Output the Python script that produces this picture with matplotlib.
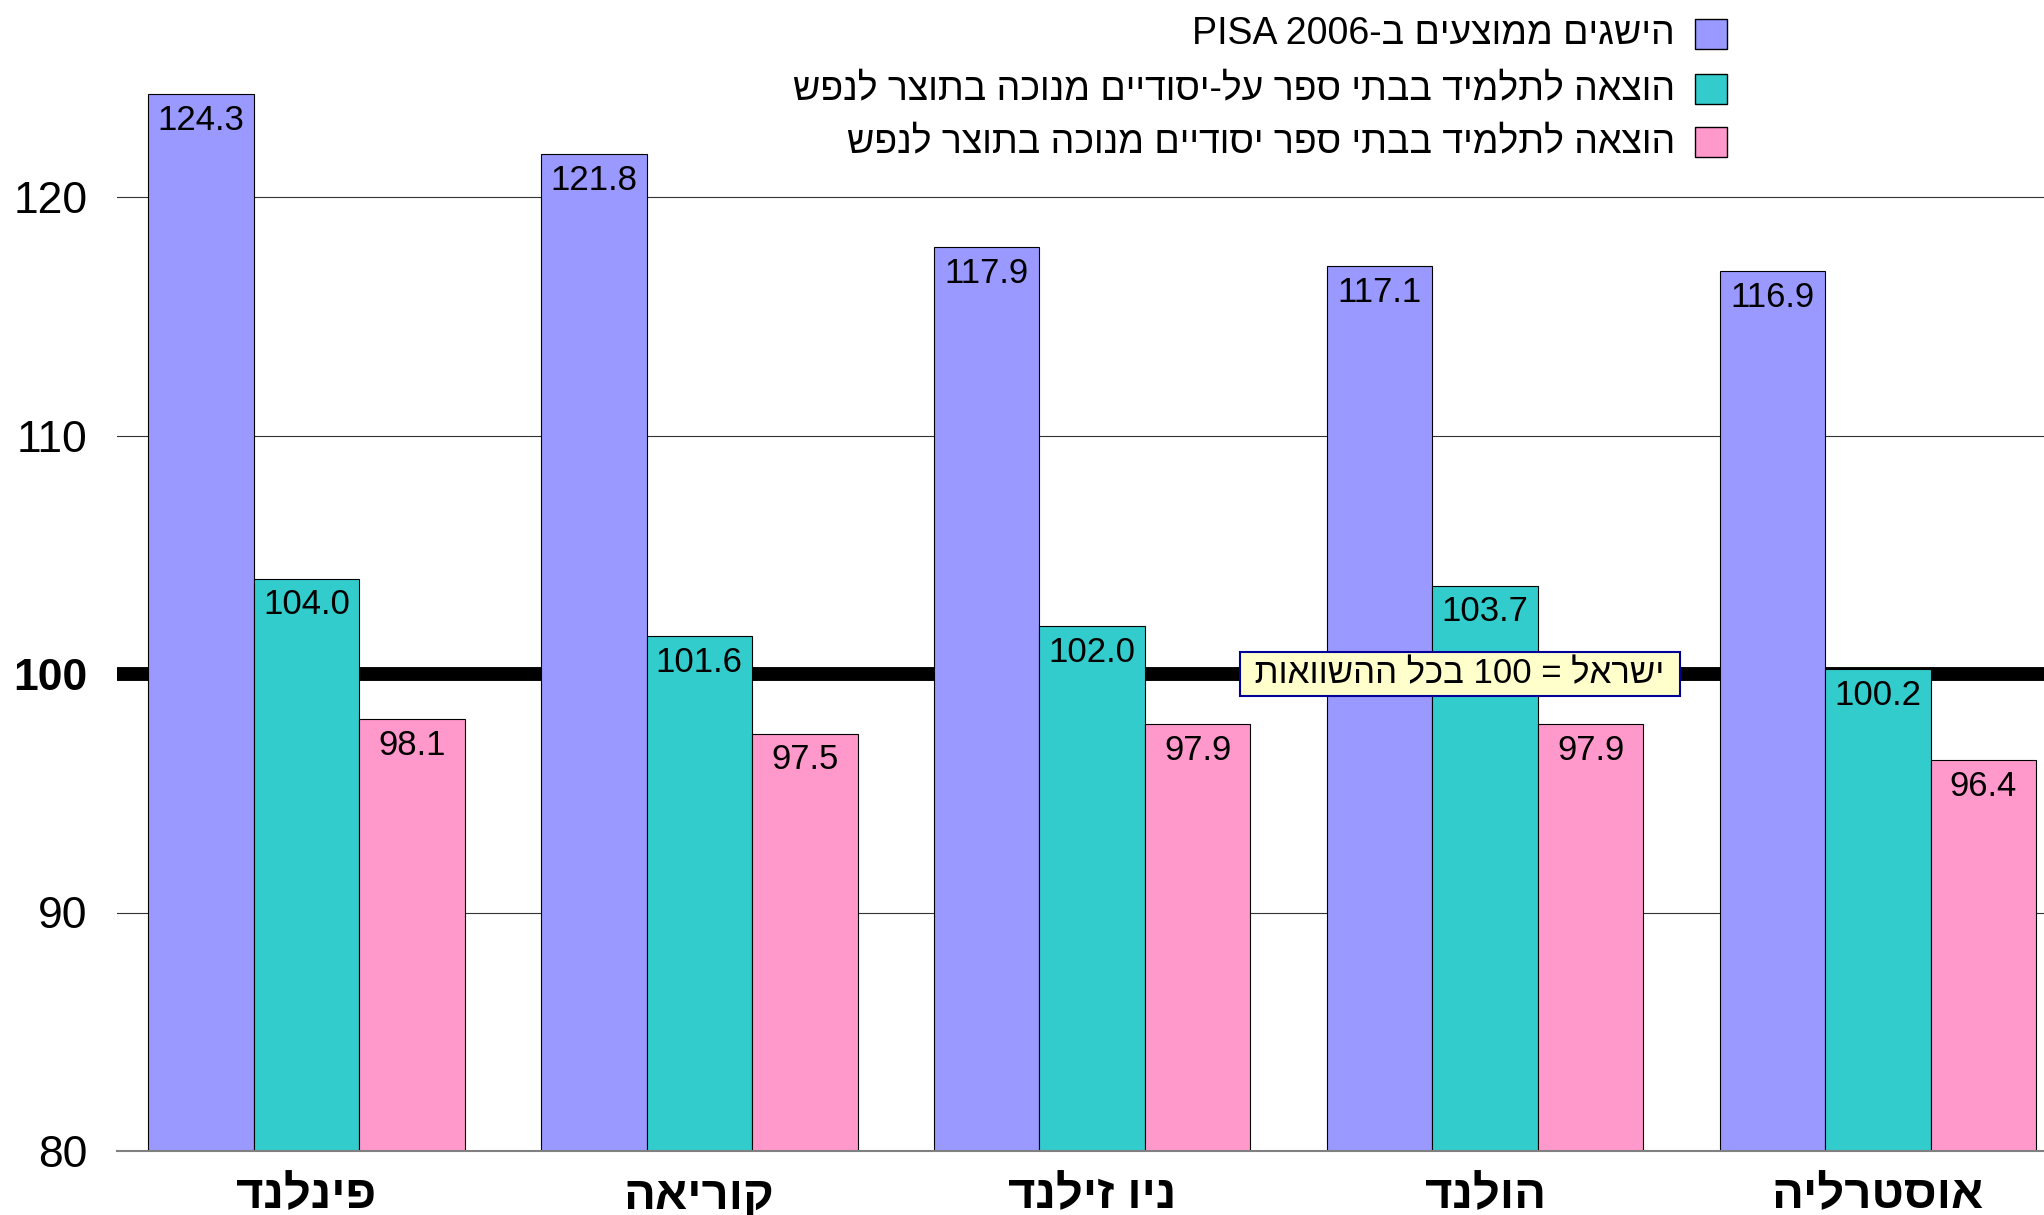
import re
import numpy as np
import matplotlib
matplotlib.use('Agg')
import matplotlib.pyplot as plt
from matplotlib.patches import Rectangle

plt.rcParams['font.family'] = ['Liberation Sans', 'DejaVu Sans']

countries = ['פינלנד', 'קוריאה', 'ניו זילנד', 'הולנד', 'אוסטרליה']
pisa = [124.3, 121.8, 117.9, 117.1, 116.9]
spend_secondary = [104.0, 101.6, 102.0, 103.7, 100.2]
spend_primary = [98.1, 97.5, 97.9, 97.9, 96.4]
series_names = ['הישגים ממוצעים ב-PISA 2006',
                'הוצאה לתלמיד בבתי ספר על-יסודיים מנוכה בתוצר לנפש',
                'הוצאה לתלמיד בבתי ספר יסודיים מנוכה בתוצר לנפש']
colors = ['#9999FF', '#33CCCC', '#FF99CC']
yticks = [80, 90, 100, 110, 120]
note = 'ישראל = 100 בכל ההשוואות'


def heb(s):
    # no bidi in matplotlib: flip to visual order, keep latin/digit runs LTR
    r = s[::-1]
    return re.sub(r'[A-Za-z0-9.]+(?: [A-Za-z0-9.]+)*', lambda m: m.group(0)[::-1], r)


W, H = 2044, 1215
fig = plt.figure(figsize=(W / 100, H / 100), dpi=100)
ax = fig.add_axes([117 / W, 64 / H, 1 - 117 / W, 1144.8 / H])

x = np.arange(len(countries))
bw = 0.2685
all_series = [pisa, spend_secondary, spend_primary]
for k, (vals, col) in enumerate(zip(all_series, colors)):
    pos = x + (k - 1) * bw
    ax.bar(pos, vals, width=bw, color=col, edgecolor='black', linewidth=0.8, zorder=2)
    for xi, v in zip(pos, vals):
        ax.annotate(f'{v:.1f}', (xi, v), xytext=(0, -7), textcoords='offset points',
                    ha='center', va='top', fontsize=25, zorder=3)

ax.set_xlim(-0.482, 4.4225)
ax.set_ylim(80, 128)
ax.set_yticks(yticks)
ax.set_yticklabels([str(t) for t in yticks], fontsize=32)
for lab in ax.get_yticklabels():
    if lab.get_text() == '100':
        lab.set_fontweight('bold')
ax.tick_params(axis='y', length=0, pad=21)
ax.set_xticks(x, [heb(c) for c in countries], fontsize=34, fontweight='bold')
ax.tick_params(axis='x', length=0, pad=17)

ax.set_axisbelow(True)
ax.grid(axis='y', color='#333333', linewidth=0.8)
ax.axhline(100, color='black', linewidth=10, zorder=1)
for s in ['top', 'right', 'left']:
    ax.spines[s].set_visible(False)
ax.spines['bottom'].set_color('#808080')
ax.spines['bottom'].set_linewidth(1.5)

ax.text(2.936, 100, ' ' + heb(note) + ' ', ha='center', va='center', fontsize=25, zorder=5,
        bbox=dict(boxstyle='square,pad=0.15', fc='#FFFFCC', ec='#000099', lw=1.5))

# legend, drawn by hand (squares on the right, text right-aligned)
rows_y = [34, 89, 142]
for name, col, yy in zip(series_names, colors, rows_y):
    fig.text(1675 / W, 1 - yy / H, heb(name), ha='right', va='center', fontsize=27)
    fig.add_artist(Rectangle((1695 / W, 1 - (yy + 15) / H), 32 / W, 30 / H,
                             transform=fig.transFigure, fc=col, ec='black', lw=1))

fig.savefig('out.png', dpi=100)
